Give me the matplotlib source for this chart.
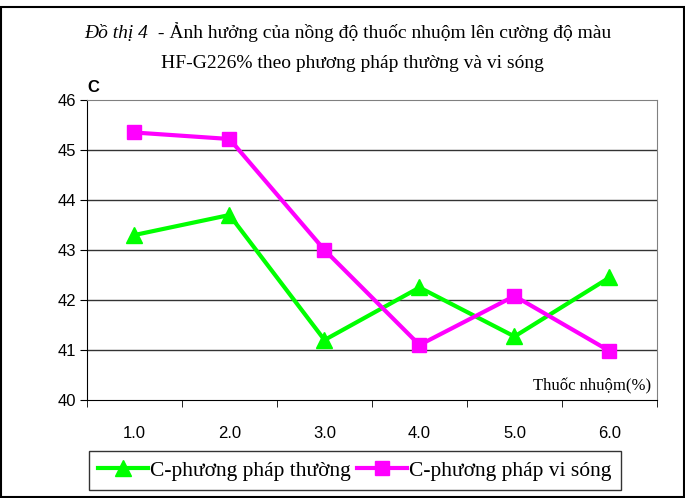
import numpy as np
import matplotlib.pyplot as plt
from matplotlib.patches import Rectangle

# data
x_labels = ["1.0", "2.0", "3.0", "4.0", "5.0", "6.0"]
c_thuong = [43.3, 43.7, 41.2, 42.25, 41.27, 42.45]
c_visong = [45.35, 45.22, 43.0, 41.1, 42.08, 40.98]
y_ticks = [40, 41, 42, 43, 44, 45, 46]

serif = "Liberation Serif"
sans = "Liberation Sans"

fig = plt.figure(figsize=(6.85, 4.98), dpi=100)
W, H = 685, 498
ax = fig.add_axes([87 / W, 1 - 400 / H, 570 / W, 300 / H])

x = np.arange(len(x_labels))
ax.plot(x, c_thuong, color="#00ff00", lw=3, marker="^", ms=11, label="C-phương pháp thường", zorder=3)
ax.plot(x, c_visong, color="#ff00ff", lw=3, marker="s", ms=10, label="C-phương pháp vi sóng", zorder=3)

ax.set_xlim(-0.5, len(x) - 0.5)
ax.set_ylim(40, 46)
ax.set_yticks(y_ticks)
ax.set_yticklabels([str(v) for v in y_ticks], fontfamily=sans, fontsize=12)
ax.set_xticks(x)
ax.set_xticklabels(x_labels, fontfamily=sans, fontsize=12)
ax.tick_params(axis="x", which="major", length=0, pad=19)
ax.set_xticks(np.arange(-0.5, len(x)), minor=True)
ax.tick_params(axis="x", which="minor", length=5, direction="out", color="black")
ax.tick_params(axis="y", length=5, direction="out", pad=3)
for v in y_ticks[1:-1]:
    ax.axhline(v, color="#333333", lw=1, zorder=1)
ax.spines["left"].set_color("black")
ax.spines["bottom"].set_color("black")
ax.spines["top"].set_color("#808080")
ax.spines["right"].set_color("#808080")

ax.text(0.99, 0.02, "Thuốc nhuộm(%)", transform=ax.transAxes, ha="right", va="bottom",
        fontfamily=serif, fontsize=12)
fig.text(87 / W, 1 - 92 / H, "C", fontfamily=sans, fontsize=12, fontweight="bold", ha="left", va="baseline")

# title: italic prefix then regular text
fig.canvas.draw()
r = fig.canvas.get_renderer()
t1 = fig.text(84 / W, 1 - 38 / H, "Đồ thị 4", fontfamily=serif, fontsize=14, fontstyle="italic", va="baseline")
bb = t1.get_window_extent(r)
fig.text(bb.x1 / W + 5 / W, 1 - 38 / H, " - Ảnh hưởng của nồng độ thuốc nhuộm lên cường độ màu",
         fontfamily=serif, fontsize=14, va="baseline")
fig.text(352 / W, 1 - 68 / H, "HF-G226% theo phương pháp thường và vi sóng",
         fontfamily=serif, fontsize=14, ha="center", va="baseline")

leg = fig.legend(loc="lower left", bbox_to_anchor=(78 / W, -3 / H), ncol=2, frameon=True,
                 prop={"family": serif, "size": 15.5}, handlelength=2.3, handletextpad=0.1,
                 columnspacing=0.3, borderpad=0.45, fancybox=False, edgecolor="black")
leg.get_frame().set_linewidth(1)

fig.patches.append(Rectangle((1 / W, 1 / H), 1 - 2 / W, 1 - 8 / H, transform=fig.transFigure,
                             fill=False, edgecolor="black", lw=1.5))
fig.savefig("out.png", dpi=100)
